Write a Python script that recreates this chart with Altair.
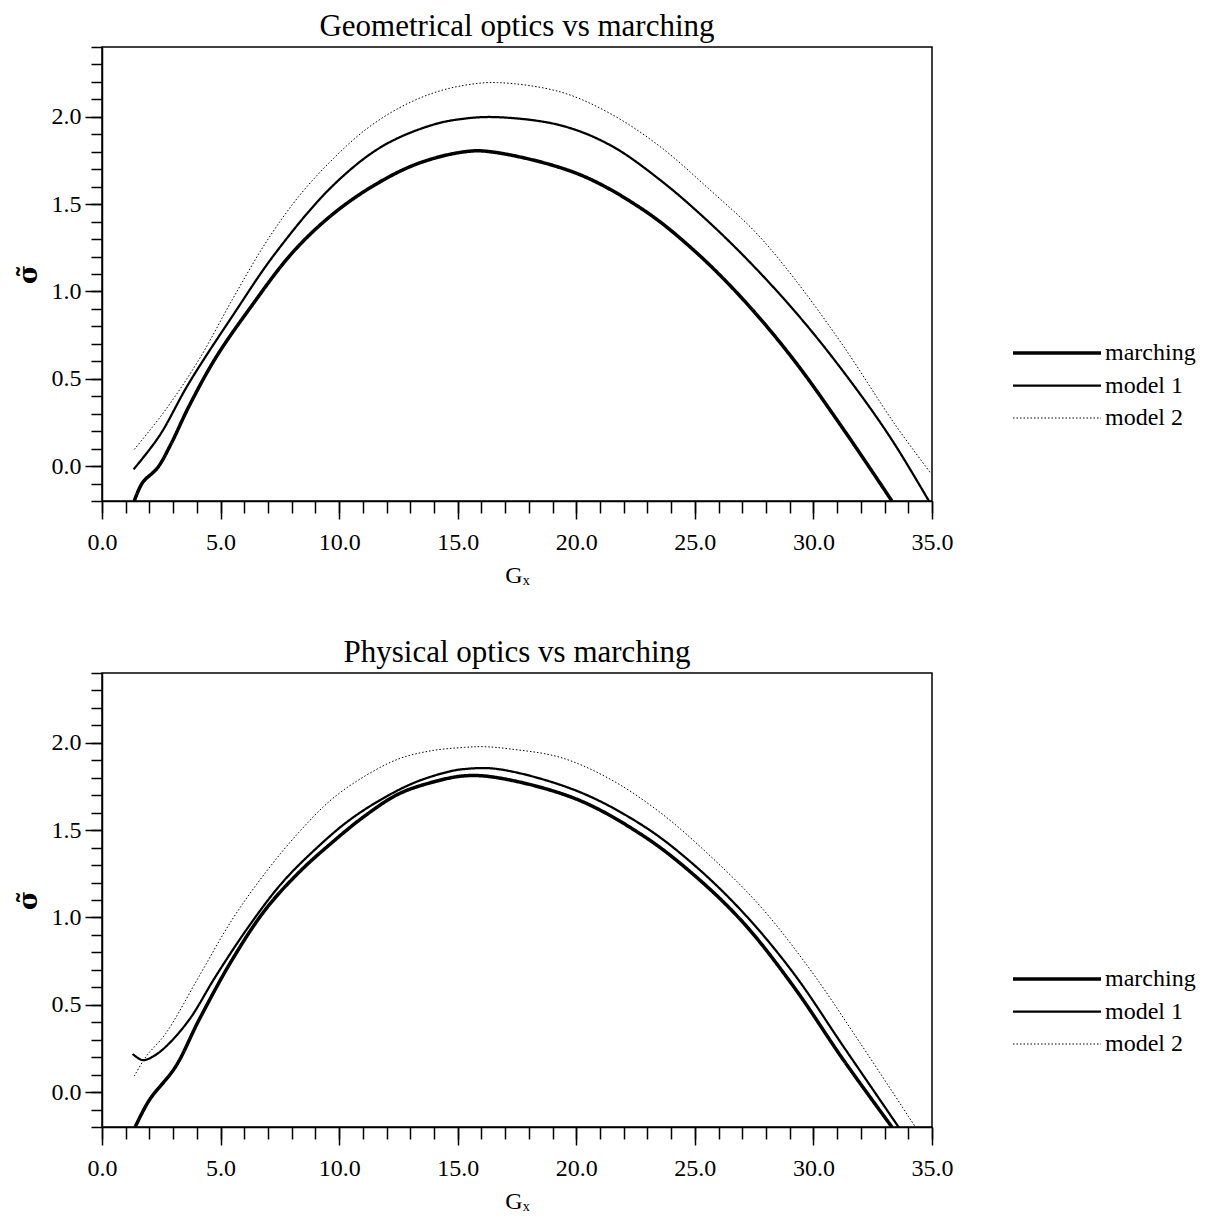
import altair as alt
import pandas as pd

series_names = ["marching", "model 1", "model 2"]

x_major = [0, 5, 10, 15, 20, 25, 30, 35]
x_minor = list(range(0, 36))
y_major = [0.0, 0.5, 1.0, 1.5, 2.0]
y_minor = [round(-0.2 + 0.1 * i, 1) for i in range(27)]

# ---- Geometrical optics vs marching (top) ----
geo_march_x = [1.36, 1.71, 2.34, 2.9, 3.67, 4.79, 6.19, 8.01, 9.69, 11.5, 13.33, 15.29, 16.4,
               20.02, 22.83, 24.94, 27.05, 29.16, 31.27, 33.31]
geo_march_y = [-0.2, -0.095, -0.01, 0.124, 0.343, 0.619, 0.895, 1.219, 1.438, 1.61, 1.733, 1.80, 1.80,
               1.676, 1.467, 1.238, 0.952, 0.61, 0.21, -0.2]
geo_m1_x = [1.33, 2.41, 3.67, 5.49, 7.31, 9.69, 11.79, 13.89, 15.29, 16.69, 19.32, 21.43,
            23.54, 25.65, 27.76, 29.87, 31.98, 33.39, 34.87]
geo_m1_y = [-0.019, 0.171, 0.476, 0.857, 1.219, 1.6, 1.829, 1.952, 1.99, 1.998, 1.952, 1.838,
            1.638, 1.39, 1.105, 0.781, 0.41, 0.133, -0.2]
geo_m2_x = [1.36, 2.69, 4.09, 5.49, 6.89, 8.29, 9.69, 11.09, 12.49, 13.89, 15.29, 16.69,
            19.32, 21.43, 23.54, 25.65, 27.55, 29.16, 31.27, 33.39, 34.93]
geo_m2_y = [0.095, 0.324, 0.61, 0.952, 1.276, 1.543, 1.752, 1.924, 2.048, 2.133, 2.181, 2.196,
            2.143, 2.019, 1.829, 1.58, 1.34, 1.08, 0.686, 0.248, -0.038]

# ---- Physical optics vs marching (bottom) ----
phy_march_x = [1.4, 1.99, 3.1, 4.09, 5.49, 6.89, 8.29, 9.69, 11.09, 12.49, 13.89, 15.29, 16.69,
               20.02, 22.83, 24.94, 27.05, 29.16, 31.27, 33.31]
phy_march_y = [-0.2, -0.047, 0.145, 0.413, 0.758, 1.045, 1.256, 1.428, 1.582, 1.706, 1.773, 1.811, 1.80,
               1.677, 1.467, 1.246, 0.969, 0.605, 0.183, -0.2]
phy_m1_x = [1.29, 1.71, 2.13, 2.69, 3.67, 4.79, 6.19, 7.59, 8.99, 10.39, 11.79, 13.19, 14.59, 15.29,
            16.69, 20.02, 22.83, 24.94, 27.05, 29.16, 31.27, 33.59]
phy_m1_y = [0.218, 0.183, 0.202, 0.26, 0.413, 0.662, 0.949, 1.198, 1.39, 1.553, 1.677, 1.773, 1.834, 1.85,
            1.85, 1.725, 1.524, 1.304, 1.026, 0.681, 0.26, -0.2]
phy_m2_x = [1.36, 1.85, 2.69, 4.09, 5.49, 6.89, 8.29, 9.69, 11.09, 12.49, 13.89, 15.29, 16.13,
            17.21, 19.32, 21.43, 23.54, 25.65, 27.76, 29.87, 31.98, 34.3]
phy_m2_y = [0.091, 0.202, 0.336, 0.662, 0.988, 1.256, 1.486, 1.677, 1.81, 1.907, 1.955, 1.974, 1.978,
            1.965, 1.917, 1.792, 1.601, 1.352, 1.064, 0.70, 0.279, -0.2]


def make_df(parts):
    rows = []
    for name, xs, ys in parts:
        for xv, yv in zip(xs, ys):
            rows.append({"series": name, "x": xv, "y": yv})
    return pd.DataFrame(rows)


geo_df = make_df([("marching", geo_march_x, geo_march_y),
                  ("model 1", geo_m1_x, geo_m1_y),
                  ("model 2", geo_m2_x, geo_m2_y)])
phy_df = make_df([("marching", phy_march_x, phy_march_y),
                  ("model 1", phy_m1_x, phy_m1_y),
                  ("model 2", phy_m2_x, phy_m2_y)])

FONT = "Liberation Serif"
xscale = alt.Scale(domain=[0, 35], nice=False, zero=False)
yscale = alt.Scale(domain=[-0.2, 2.4], nice=False, zero=False)

legend = alt.Legend(
    title=None, orient="none", legendX=942, legendY=293,
    symbolType="M-4,0H4", symbolSize=484, symbolStrokeColor="black",
    symbolFillColor="transparent", labelOffset=35, labelFont=FONT,
    labelFontSize=24, labelColor="black", rowPadding=8,
)


def panel(df, title):
    base = alt.Chart(df)
    lines = base.mark_line(interpolate="catmull-rom", clip=True, color="black").encode(
        x=alt.X("x:Q", scale=xscale,
                axis=alt.Axis(values=x_major, format=".1f", tickSize=18, labelPadding=11,
                              labelFlush=False, title="Gₓ", titlePadding=9, orient="bottom")),
        y=alt.Y("y:Q", scale=yscale,
                axis=alt.Axis(values=y_major, format=".1f", tickSize=17, labelPadding=4,
                              labelFlush=False, title="σ̃", titleFont="DejaVu Serif",
                              titleFontWeight="bold", titleFontSize=26,
                              titlePadding=10, orient="left")),
        strokeDash=alt.StrokeDash("series:N",
                                  scale=alt.Scale(domain=series_names,
                                                  range=[[1, 0], [1, 0], [1.5, 2]]),
                                  legend=legend),
        strokeWidth=alt.StrokeWidth("series:N",
                                    scale=alt.Scale(domain=series_names, range=[3.5, 1, 1.3]),
                                    legend=legend),
    )
    minor = base.mark_point(opacity=0).encode(
        x=alt.X("x:Q", scale=xscale,
                axis=alt.Axis(values=x_minor, labels=False, domain=False, tickSize=12,
                              orient="bottom", title=None)),
        y=alt.Y("y:Q", scale=yscale,
                axis=alt.Axis(values=y_minor, labels=False, domain=False, tickSize=11,
                              orient="left", title=None)),
    )
    return alt.layer(lines, minor).resolve_axis(x="independent", y="independent").properties(
        width=830, height=454,
        title=alt.TitleParams(title, font=FONT, fontSize=31, fontWeight="normal",
                              color="black", offset=3),
    )


chart = alt.vconcat(
    panel(geo_df, "Geometrical optics vs marching"),
    panel(phy_df, "Physical optics vs marching"),
    spacing=48,
).resolve_scale(strokeDash="independent", strokeWidth="independent").properties(
    padding={"left": 6, "top": 2, "right": 0, "bottom": -2}
).configure(background="white").configure_view(
    stroke="black", strokeWidth=1.5
).configure_axis(
    grid=False, domainColor="black", domainWidth=1.5, tickColor="black", tickWidth=1.5,
    labelFont=FONT, labelFontSize=24, labelColor="black",
    titleFont=FONT, titleFontSize=24, titleFontWeight="normal", titleColor="black",
)

chart.save("out.html", embed_options={"renderer": "svg", "actions": False})
